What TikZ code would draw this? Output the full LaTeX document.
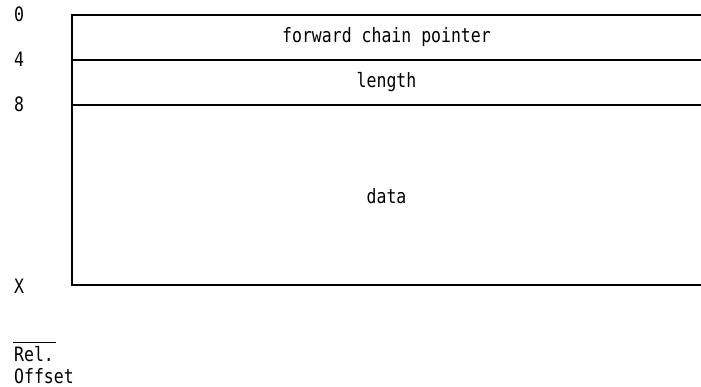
\documentclass[tikz,border=0pt]{standalone}
\usepackage{fontspec}
\setmonofont{DejaVu Sans Mono}
\begin{document}
\begin{tikzpicture}[x=1pt,y=-1pt,
  rule/.style={line width=1.1pt,black},
  fieldtext/.style={font=\ttfamily\fontsize{16.5}{19}\selectfont,inner sep=0pt,yscale=1.2,transform shape},
  offtext/.style={font=\ttfamily\fontsize{16.5}{19}\selectfont,inner sep=0pt,anchor=base west,yscale=1.2,transform shape}]
\useasboundingbox (0,0) rectangle (701,387);
% box lines
\coordinate (tl) at (72,15);
\coordinate (tr) at (701,15);
\coordinate (ml) at (72,60);
\coordinate (mr) at (701,60);
\coordinate (nl) at (72,105);
\coordinate (nr) at (701,105);
\coordinate (bl) at (72,285);
\coordinate (br) at (701,285);
\draw[rule] (tr) -- (tl) -- (bl) -- (br);
\draw[rule] (ml) -- (mr);
\draw[rule] (nl) -- (nr);
% field texts
\node[fieldtext] (f1) at (386.5,37.5) {forward chain pointer};
\node[fieldtext] (f2) at (386.5,82.5) {length};
\node[fieldtext] (f3) at (386.5,196) {data};
% offsets
\node[offtext] (o0) at (14,22) {0};
\node[offtext] (o4) at (14,67) {4};
\node[offtext] (o8) at (14,112) {8};
\node[offtext] (oX) at (14,293) {X};
\node[offtext] (rel) at (14,361) {Rel.};
\node[offtext] (off) at (14,383) {Offset};
\draw[line width=0.9pt] (13,342) -- (56,342);
\end{tikzpicture}
\end{document}
